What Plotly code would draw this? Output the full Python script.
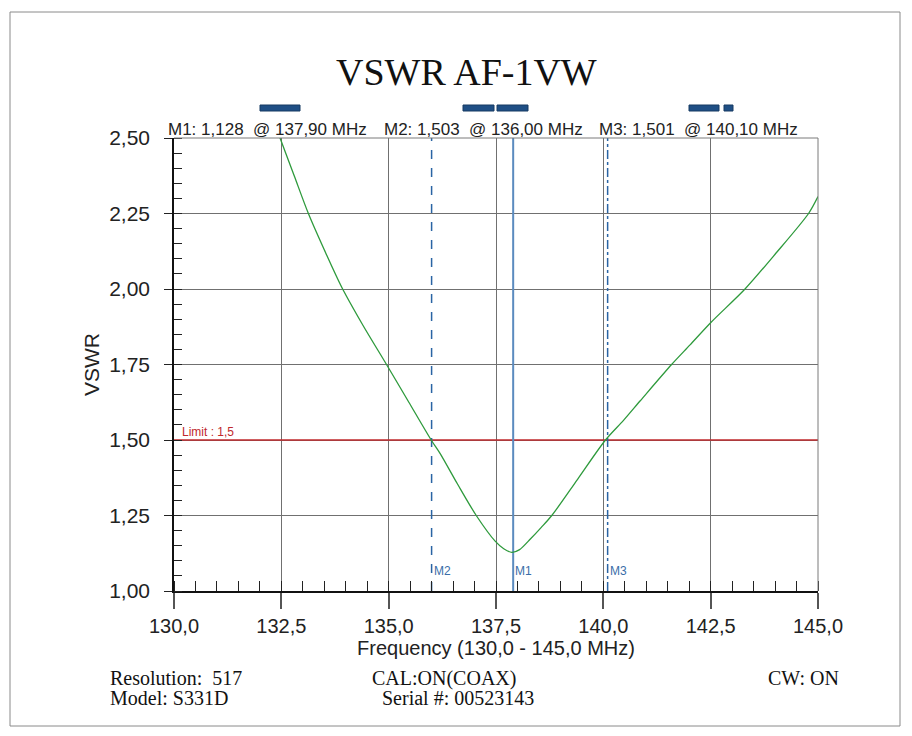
import plotly.graph_objects as go

# ---------------- data ----------------
freq_mhz = [132.00, 132.47, 132.80, 133.13, 133.50, 133.91, 134.40, 134.95, 135.47,
            135.99, 136.20, 136.60, 137.04, 137.48, 137.68, 137.87, 138.05,
            138.30, 138.55, 138.80, 139.40, 140.05, 140.47, 140.86, 141.59, 142.02,
            142.51, 143.30, 144.00, 144.78, 145.00]
vswr = [2.68, 2.50, 2.375, 2.25, 2.13, 2.005, 1.88, 1.75, 1.625,
        1.50, 1.455, 1.355, 1.25, 1.165, 1.14, 1.128, 1.137,
        1.172, 1.21, 1.25, 1.37, 1.50, 1.565, 1.63, 1.75, 1.815,
        1.89, 2.00, 2.115, 2.25, 2.306]

marker_names = ["M1", "M2", "M3"]
marker_vswr = [1.128, 1.503, 1.501]
marker_readout_freq = [137.90, 136.00, 140.10]
marker_line_freq = [137.90, 136.00, 140.10]
marker_line_dash = ["solid", "dash", "dashdot"]

limit_value = 1.5
x_ticks = [130.0, 132.5, 135.0, 137.5, 140.0, 142.5, 145.0]
y_ticks = [1.00, 1.25, 1.50, 1.75, 2.00, 2.25, 2.50]

title_text = "VSWR AF-1VW"
x_title = "Frequency (130,0 - 145,0 MHz)"
y_title = "VSWR"
footer_row1 = ["Resolution:  517", "CAL:ON(COAX)", "CW: ON"]
footer_row2 = ["Model: S331D", "Serial #: 00523143"]

# ---------------- layout geometry (page pixels) ----------------
PAGE_OFF = 8                      # default body margin of the html page
W, H = 912 - PAGE_OFF, 736 - PAGE_OFF
PL, PR, PT, PB = 174, 818, 138, 591   # plot area in page pixels


def px(x):
    return (x - PL) / (PR - PL)


def py(y):
    return (PB - y) / (PB - PT)


def comma(v, nd):
    return f"{v:.{nd}f}".replace(".", ",")


SANS = "Liberation Sans, Arial, sans-serif"
SERIF = "Liberation Serif, Times New Roman, serif"
BLUE = "#2a64a4"
RED = "#c0282d"
GREEN = "#2e9a3c"

fig = go.Figure()

# limit line
fig.add_trace(go.Scatter(x=[130, 145], y=[limit_value, limit_value], mode="lines",
                         line=dict(color=RED, width=1.5), hoverinfo="skip", showlegend=False))

# marker lines
for name, f, dash in zip(marker_names, marker_line_freq, marker_line_dash):
    fig.add_trace(go.Scatter(
        x=[f, f], y=[1.0, 2.5], mode="lines",
        line=dict(color="#5b8bbf" if dash == "solid" else BLUE,
                  width=2 if dash == "solid" else 1.5, dash=dash),
        hoverinfo="skip", showlegend=False))

# VSWR curve
fig.add_trace(go.Scatter(x=freq_mhz, y=vswr, mode="lines",
                         line=dict(color=GREEN, width=1.3, shape="spline", smoothing=0.8),
                         name="VSWR", showlegend=False))

shapes = []
# outer frame
shapes.append(dict(type="rect", xref="paper", yref="paper",
                   x0=px(10), x1=px(900), y0=py(726), y1=py(12),
                   line=dict(color="#8a8a8a", width=1), layer="below"))
# top & right plot border
shapes.append(dict(type="line", xref="paper", yref="paper", x0=0, x1=1, y0=1, y1=1,
                   line=dict(color="#7a7a7a", width=1)))
shapes.append(dict(type="line", xref="paper", yref="paper", x0=1, x1=1, y0=0, y1=1,
                   line=dict(color="#7a7a7a", width=1)))
# blue marker bars above readout
for x0, x1 in [(260, 300), (463, 494), (497, 528), (689, 719), (724, 733)]:
    shapes.append(dict(type="rect", xref="paper", yref="paper",
                       x0=px(x0), x1=px(x1), y0=py(111), y1=py(105),
                       fillcolor="#1f4f85", line=dict(color="#163a63", width=1)))

annotations = []
annotations.append(dict(text=title_text, xref="paper", yref="paper", x=px(466), y=py(72),
                        xanchor="center", yanchor="middle", showarrow=False,
                        font=dict(family=SERIF, size=38, color="#111")))
# marker readouts
for name, v, f, xl in zip(marker_names, marker_vswr, marker_readout_freq, [166, 382, 597]):
    annotations.append(dict(text=f"{name}: {comma(v, 3)}\u00a0\u00a0@ {comma(f, 2)} MHz",
                            xref="paper", yref="paper", x=px(xl), y=py(130),
                            xanchor="left", yanchor="middle", showarrow=False,
                            font=dict(family=SANS, size=17, color="#222")))
# marker labels near bottom
for name, f in zip(marker_names, marker_line_freq):
    annotations.append(dict(text=name, x=f, y=py(571), xref="x", yref="paper",
                            xanchor="left", yanchor="middle", showarrow=False,
                            font=dict(family=SANS, size=12, color="#3a6ea8")))
# limit label
annotations.append(dict(text=f"Limit : {comma(limit_value, 1)}", xref="paper", yref="paper",
                        x=px(180), y=py(432), xanchor="left", yanchor="middle", showarrow=False,
                        font=dict(family=SANS, size=12, color=RED)))
# footer
for t, xl in zip(footer_row1, [108, 370, 766]):
    annotations.append(dict(text=t, xref="paper", yref="paper", x=px(xl), y=py(678),
                            xanchor="left", yanchor="middle", showarrow=False,
                            font=dict(family=SERIF, size=20, color="#111")))
for t, xl in zip(footer_row2, [108, 380]):
    annotations.append(dict(text=t, xref="paper", yref="paper", x=px(xl), y=py(698),
                            xanchor="left", yanchor="middle", showarrow=False,
                            font=dict(family=SERIF, size=20, color="#111")))

fig.update_layout(
    width=W, height=H,
    margin=dict(l=PL - PAGE_OFF, r=W - (PR - PAGE_OFF), t=PT - PAGE_OFF,
                b=H - (PB - PAGE_OFF), pad=0),
    paper_bgcolor="white", plot_bgcolor="white",
    separators=", ",
    shapes=shapes, annotations=annotations,
    xaxis=dict(range=[130, 145], tickvals=x_ticks, tickformat=".1f",
               showgrid=True, gridcolor="#707070", gridwidth=1,
               showline=True, linecolor="#111", linewidth=1.5,
               ticks="outside", ticklen=16, tickcolor="#555", tickwidth=1.5,
               minor=dict(dtick=0.5, ticks="inside", ticklen=10, tickcolor="#222",
                          tickwidth=1, showgrid=False),
               tickfont=dict(family=SANS, size=20, color="#222"),
               title=dict(text=x_title, font=dict(family=SANS, size=20, color="#222"), standoff=5),
               zeroline=False, fixedrange=True),
    yaxis=dict(range=[1.0, 2.5], tickvals=y_ticks, tickformat=".2f",
               showgrid=True, gridcolor="#707070", gridwidth=1,
               showline=True, linecolor="#111", linewidth=1.5,
               ticks="outside", ticklen=8, tickcolor="#222", tickwidth=1.2,
               minor=dict(dtick=0.05, ticks="inside", ticklen=8, tickcolor="#222",
                          tickwidth=1, showgrid=False),
               ticklabelstandoff=10,
               tickfont=dict(family=SANS, size=21, color="#222"),
               title=dict(text=y_title, font=dict(family=SANS, size=21, color="#222"), standoff=4),
               zeroline=False, fixedrange=True),
)

fig.write_html("out.html")
